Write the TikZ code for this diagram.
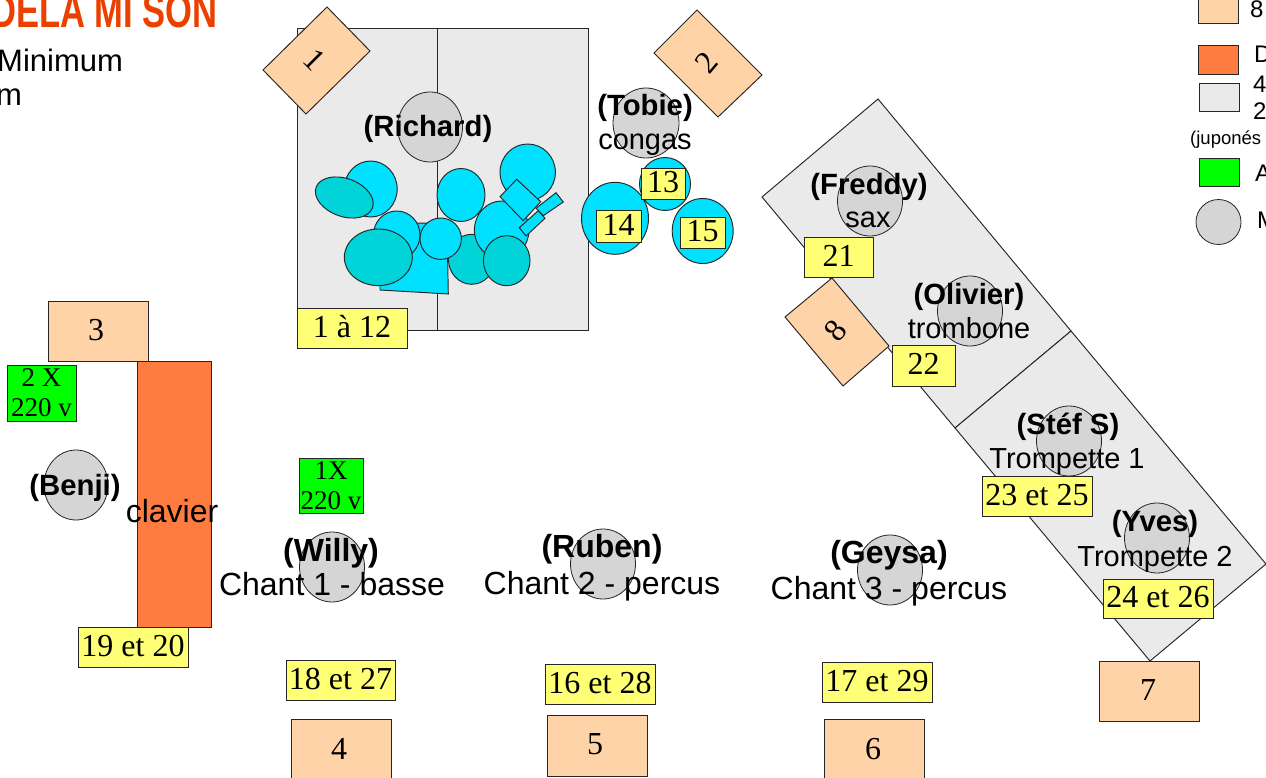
\documentclass[tikz,border=0pt]{standalone}
\usepackage{fontspec}
\setmainfont{Liberation Serif}
\newfontfamily\arialf{Liberation Sans}
\definecolor{peach}{HTML}{FFD3A8}
\definecolor{clavorange}{HTML}{FF7C40}
\definecolor{stagegray}{HTML}{EAEAEA}
\definecolor{yellowbox}{HTML}{FFFF75}
\definecolor{greenbox}{HTML}{00FF00}
\definecolor{drumblue}{HTML}{00E0FF}
\definecolor{drumteal}{HTML}{00D4D8}
\definecolor{mangray}{HTML}{D5D5D5}
\definecolor{titlered}{HTML}{EB4100}
\tikzset{
  edge/.style={draw=black!85!white,line width=0.95pt,line join=miter},
  stagepoly/.style={edge,fill=stagegray},
  peachpoly/.style={edge,fill=peach},
  bluedrum/.style={edge,fill=drumblue},
  tealdrum/.style={edge,fill=drumteal},
  man/.style={edge,fill=mangray,line width=0.8pt},
  numbox/.style={edge,rectangle,inner sep=0pt,font=\fontsize{32}{32}\selectfont,text height=20pt,text depth=2pt,align=center},
  yellowtag/.style={numbox,fill=yellowbox},
  peachbox/.style={numbox,fill=peach},
  greenbox2/.style={edge,rectangle,inner sep=0pt,fill=greenbox,align=center,font=\fontsize{27}{30}\selectfont},
  boldname/.style={anchor=base,inner sep=0pt,font=\arialf\bfseries\fontsize{29.3}{29}\selectfont},
  boldchant/.style={anchor=base,inner sep=0pt,font=\arialf\bfseries\fontsize{32}{32}\selectfont},
  rolename/.style={anchor=base,inner sep=0pt,font=\arialf\fontsize{29}{29}\selectfont},
  chantname/.style={anchor=base,inner sep=0pt,font=\arialf\fontsize{32}{32}\selectfont},
  monitornum/.style={inner sep=0pt,font=\fontsize{32}{32}\selectfont},
  legendtxt/.style={anchor=base west,inner sep=0pt,font=\arialf\fontsize{24}{24}\selectfont},
}
\newcommand{\tagbox}[7][yellowtag]{%
  \node[#1,minimum width=#4pt-#3pt,minimum height=#6pt-#5pt] (#2) at ({(#3+#4)/2},{(#5+#6)/2}) {#7};}
\begin{document}
\begin{tikzpicture}[x=1pt,y=-1pt]
\clip (0,0) rectangle (1266,778);
\useasboundingbox (0,0) rectangle (1266,778);
\fill[white] (0,0) rectangle (1266,778);

% title and header
\node[anchor=base east,inner sep=0pt,text=titlered,xscale=0.72,font=\arialf\bfseries\fontsize{48}{48}\selectfont] (title) at (218,28) {DELA MI SON};
\node[anchor=base west,inner sep=0pt,font=\arialf\fontsize{31}{31}\selectfont] (minimum) at (-3,72) {Minimum};
\node[anchor=base west,inner sep=0pt,font=\arialf\fontsize{31}{31}\selectfont] (mline) at (-4,106) {m};

% legend
\tagbox[peachbox]{legA}{1198}{1238}{-10}{23}{}
\node[legendtxt] (legAt) at (1250,18) {8};
\node[edge,fill=clavorange,inner sep=0pt,minimum width=40pt,minimum height=29pt] (legB) at (1218,59.5) {};
\node[legendtxt] (legBt) at (1254,63) {D};
\node[stagepoly,inner sep=0pt,minimum width=40pt,minimum height=28pt] (legC) at (1219,97) {};
\node[legendtxt] (legCt) at (1253,93) {4};
\node[legendtxt] (legCu) at (1253,120) {2};
\node[anchor=base west,inner sep=0pt,font=\arialf\fontsize{18.5}{18.5}\selectfont] (legJ) at (1190,145) {(juponés};
\node[edge,fill=greenbox,inner sep=0pt,minimum width=40pt,minimum height=28pt] (legD) at (1219,172.5) {};
\node[legendtxt] (legDt) at (1255,182) {A};
\node[man,circle,inner sep=0pt,minimum size=45pt] at (1218.5,222) (legE) {};
\node[legendtxt] (legEt) at (1257,229) {M};

% left stage
\draw[stagepoly] (297,28) rectangle (588,330);
\draw[edge] (437,28) -- (437,330);

% right stage
\draw[stagepoly] (878,99) -- (1071,331) -- (955,428) -- (762,197) -- cycle;
\draw[stagepoly] (1071,331) -- (1266,564) -- (1150,661) -- (955,428) -- cycle;

% drums
\draw[bluedrum] (370.7,189) ellipse [x radius=26.5,y radius=28];
\draw[tealdrum,rotate around={-20:(344.3,197.5)}] (344.3,197.5) ellipse [x radius=30,y radius=19];
\draw[bluedrum] (461,195) ellipse [x radius=24,y radius=26.5];
\draw[bluedrum] (527.7,172.3) ellipse [x radius=27.7,y radius=28.3];
\draw[bluedrum] (380,290) -- (448.3,294) -- (447,223.5) -- (380,222.5) -- cycle;
\draw[bluedrum] (396.7,235) ellipse [x radius=23.3,y radius=24];
\draw[tealdrum] (378.3,257.3) ellipse [x radius=34,y radius=28.3];
\draw[tealdrum] (471.7,259.3) ellipse [x radius=23.3,y radius=25];
\draw[bluedrum] (440.7,238.7) circle [radius=20.7];
\draw[bluedrum] (501.7,230) ellipse [x radius=27.3,y radius=29];
\draw[bluedrum] (516.7,179.3) -- (540.7,201.7) -- (523.3,220.7) -- (500,196.7) -- cycle;
\draw[bluedrum] (556,192.7) -- (563.3,202) -- (543.3,215.7) -- (536,208.3) -- cycle;
\draw[bluedrum] (538.3,210.7) -- (545,218.3) -- (526,236) -- (519.3,227.7) -- cycle;
\draw[tealdrum] (506.7,260.7) ellipse [x radius=23.3,y radius=25];

% congas
\draw[bluedrum] (665,184) ellipse [x radius=25.5,y radius=26.5];
\draw[bluedrum] (615,218.3) ellipse [x radius=33.5,y radius=36];
\draw[bluedrum] (702.7,231) ellipse [x radius=30.5,y radius=32.5];

% musicians
\draw[man] (430,127) ellipse [x radius=32.5,y radius=35];
\draw[man] (646,123) ellipse [x radius=33,y radius=35];
\draw[man] (870,201) ellipse [x radius=32.5,y radius=35];
\draw[man] (970,311) ellipse [x radius=32.5,y radius=35];
\draw[man] (1069,441) ellipse [x radius=32.5,y radius=35];
\draw[man] (1157,538) ellipse [x radius=32.5,y radius=35];
\draw[man] (76,485) ellipse [x radius=32,y radius=35];
\draw[man] (332,567) ellipse [x radius=32.5,y radius=35];
\draw[man] (603,564) ellipse [x radius=32.5,y radius=35];
\draw[man] (890,570) ellipse [x radius=32.5,y radius=35];

% rotated monitors
\draw[peachpoly] (327,7) -- (370,51) -- (306,114) -- (263,70) -- cycle;
\node[monitornum,rotate=-45] (m1) at (315,60) {1};
\draw[peachpoly] (697,10) -- (762,75) -- (718,117) -- (654,53) -- cycle;
\node[monitornum,rotate=50] (m2) at (707,63) {2};
\draw[peachpoly] (832,278) -- (889,346) -- (843,386) -- (785,317) -- cycle;
\node[monitornum,rotate=50] (m8) at (836,331) {8};

% square monitors
\tagbox[peachbox]{m3}{48}{148}{301}{361}{\kern-4pt 3}
\tagbox[peachbox]{m4}{291}{391}{719}{790}{}
\node[monitornum,anchor=base] (m4t) at (339,759) {4};
\tagbox[peachbox]{m5}{547}{647}{715}{776}{\kern-4pt 5}
\tagbox[peachbox]{m6}{824}{924}{719}{790}{}
\node[monitornum,anchor=base] (m6t) at (873,759) {6};
\tagbox[peachbox]{m7}{1099}{1199}{661}{721}{\kern-2pt 7}

% keyboard
\node[edge,fill=clavorange,inner sep=0pt,minimum width=74pt,minimum height=266pt] (clav) at (174,494) {};
\node[chantname] (clavt) at (172,522) {clavier};

% power
\node[greenbox2,minimum width=69pt,minimum height=56pt] (p2) at (41.5,393) {2 X\\220 v};
\node[greenbox2,minimum width=64pt,minimum height=55pt] (p1) at (331,485.5) {1X\\220 v};

% yellow tags
\tagbox{t112}{297}{407}{308}{348}{1 à 12}
\tagbox{t13}{641}{685}{168}{199}{13}
\tagbox{t14}{596}{641}{210}{242}{14}
\tagbox{t15}{680}{725}{217}{248}{15}
\tagbox{t21}{804}{873}{237}{277}{21}
\tagbox{t22}{892}{955}{345}{386}{22}
\tagbox{t23}{982}{1092}{476}{516}{23 et 25}
\tagbox{t24}{1103}{1213}{579}{618}{24 et 26}
\tagbox{t19}{78}{188}{627}{667}{19 et 20}
\tagbox{t18}{286}{395}{660}{700}{18 et 27}
\tagbox{t16}{545}{655}{664}{704}{16 et 28}
\tagbox{t17}{822}{932}{662}{702}{17 et 29}

% names
\node[boldname] (n1) at (428,137) {(Richard)};
\node[boldname] (n2) at (645,116) {(Tobie)};
\node[rolename] (r2) at (645,150) {congas};
\node[boldname] (n3) at (869,195) {(Freddy)};
\node[rolename] (r3) at (868,228) {sax};
\node[boldname] (n4) at (969,304) {(Olivier)};
\node[rolename] (r4) at (969,338) {trombone};
\node[boldname] (n5) at (1068,434) {(Stéf S)};
\node[rolename] (r5) at (1067,468) {Trompette 1};
\node[boldname] (n6) at (1155,531) {(Yves)};
\node[rolename] (r6) at (1155,566) {Trompette 2};
\node[boldname] (n7) at (75,495) {(Benji)};
\node[boldchant] (n8) at (331,561) {(Willy)};
\node[chantname] (r8) at (332,595) {Chant 1 - basse};
\node[boldchant] (n9) at (602,557) {(Ruben)};
\node[chantname] (r9) at (602,594) {Chant 2 - percus};
\node[boldchant] (n10) at (889,563) {(Geysa)};
\node[chantname] (r10) at (889,599) {Chant 3 - percus};
\end{tikzpicture}
\end{document}
